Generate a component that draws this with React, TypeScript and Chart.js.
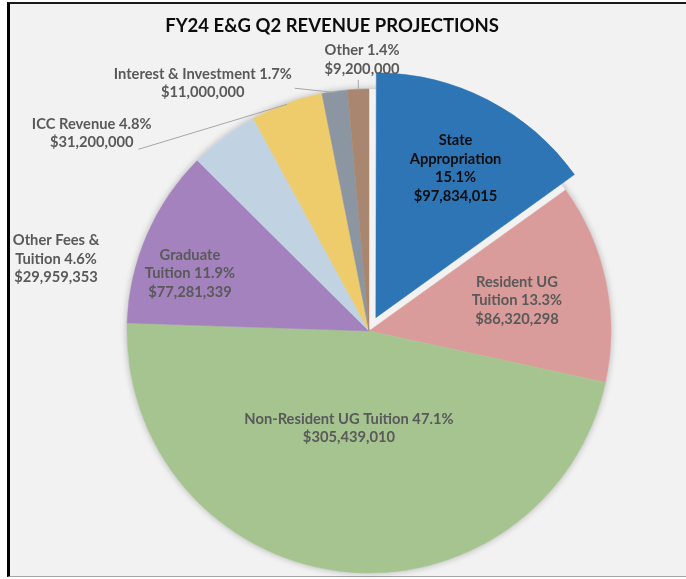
import React, { useEffect, useRef } from 'react';
import { Chart, registerables } from 'chart.js';

Chart.register(...registerables);

// ---------- data ----------
const chartTitle = 'FY24 E&G Q2 REVENUE PROJECTIONS';
const categories = [
  'State\nAppropriation',
  'Resident UG\nTuition',
  'Non-Resident UG Tuition',
  'Graduate\nTuition',
  'Other Fees &\nTuition',
  'ICC Revenue',
  'Interest & Investment',
  'Other',
];
const amounts = [97834015, 86320298, 305439010, 77281339, 29959353, 31200000, 11000000, 9200000];
const percentSeparator = ['\n', ' ', ' ', ' ', ' ', ' ', ' ', ' '];

// ---------- styles / layout ----------
const sliceColors = ['#2E75B6', '#DA9C9B', '#A5C490', '#A382BD', '#C1D3E3', '#EECB6B', '#8C96A3', '#A9866F'];
const sliceOffsets = [60, 0, 0, 0, 0, 0, 0, 0];
const labelColors = ['#0D0D0D', '#595959', '#595959', '#595959', '#595959', '#595959', '#595959', '#595959'];
// label placement: angle shift from slice middle (degrees) and distance in outer radii
const labelAngleShift = [0.9, 0.1, 4.6, -5.6, -40.2, -34.6, -25.7, 1.1];
const labelRadius = [0.7, 0.624, 0.41, 0.777, 1.327, 1.408, 1.233, 1.122];
const leaderMode = ['', '', '', '', '', 'bottomRight', 'right', 'bottom'];

const FONT = 'Lato, "Open Sans", sans-serif';
const LABEL_SIZE = 14.7;
const LINE_H = 18.5;

const total = amounts.reduce((a, b) => a + b, 0);
const labelTexts = amounts.map((v, i) => {
  const pct = ((v / total) * 100).toFixed(1) + '%';
  return categories[i] + percentSeparator[i] + pct + '\n$' + v.toLocaleString('en-US');
});

const deg = Math.PI / 180;

const labelPlugin = {
  id: 'sliceLabels',
  beforeDatasetsDraw(chart: any) {
    const meta = chart.getDatasetMeta(0);
    const a = meta.data[1];
    if (!a) return;
    const ctx = chart.ctx;
    ctx.save();
    ctx.shadowColor = 'rgba(0,0,0,0.28)';
    ctx.shadowBlur = 7;
    ctx.fillStyle = '#F2F2F2';
    ctx.beginPath();
    ctx.arc(a.x, a.y, a.outerRadius, 0, Math.PI * 2);
    ctx.fill();
    ctx.restore();
  },
  afterDatasetsDraw(chart: any) {
    const ctx = chart.ctx;
    const meta = chart.getDatasetMeta(0);
    meta.data.forEach((arc: any, i: number) => {
      const mid = (arc.startAngle + arc.endAngle) / 2;
      const off = (sliceOffsets[i] || 0) / 4;
      const cx0 = arc.x + Math.cos(mid) * off;
      const cy0 = arc.y + Math.sin(mid) * off;
      const ang = mid + labelAngleShift[i] * deg;
      const r = arc.outerRadius * labelRadius[i];
      const cx = cx0 + Math.cos(ang) * r;
      const cy = cy0 + Math.sin(ang) * r;
      const lines = labelTexts[i].split('\n');
      ctx.save();
      ctx.font = `bold ${LABEL_SIZE}px ${FONT}`;
      ctx.fillStyle = labelColors[i];
      ctx.textAlign = 'center';
      ctx.textBaseline = 'middle';
      const n = lines.length;
      const ys = lines.map((_, k) => cy + (k - (n - 1) / 2) * LINE_H);
      lines.forEach((t, k) => ctx.fillText(t, cx, ys[k]));
      const mode = leaderMode[i];
      if (mode) {
        const ex = cx0 + Math.cos(mid) * (arc.outerRadius - 1);
        const ey = cy0 + Math.sin(mid) * (arc.outerRadius - 1);
        let sx = ex, sy = ey;
        if (mode === 'bottomRight') {
          const w = ctx.measureText(lines[n - 1]).width;
          sx = cx + w / 2 + 5;
          sy = ys[n - 1] + 7;
        } else if (mode === 'right') {
          const w = Math.max(...lines.map((t) => ctx.measureText(t).width));
          sx = cx + w / 2 + 3;
          sy = cy + 5;
        } else if (mode === 'bottom') {
          sx = ex;
          sy = ys[n - 1] + 11;
        }
        ctx.strokeStyle = '#A6A6A6';
        ctx.lineWidth = 1;
        ctx.beginPath();
        ctx.moveTo(sx, sy);
        ctx.lineTo(ex, ey);
        ctx.stroke();
      }
      ctx.restore();
    });
  },
  afterDraw(chart: any) {
    const ctx = chart.ctx;
    ctx.save();
    ctx.font = `bold 18.5px ${FONT}`;
    ctx.fillStyle = '#0D0D0D';
    ctx.textAlign = 'center';
    ctx.textBaseline = 'middle';
    ctx.fillText(chartTitle, 332, 26);
    ctx.restore();
  },
};

export default function App() {
  const ref = useRef<HTMLCanvasElement>(null);
  useEffect(() => {
    if (!ref.current) return;
    const chart = new Chart(ref.current, {
      type: 'pie',
      data: {
        labels: categories.map((c) => c.replace('\n', ' ')),
        datasets: [
          {
            data: amounts,
            backgroundColor: sliceColors,
            borderColor: sliceColors,
            borderWidth: 0.5,
            offset: sliceOffsets,
            hoverOffset: 0,
          } as any,
        ],
      },
      options: {
        responsive: false,
        maintainAspectRatio: false,
        devicePixelRatio: 1,
        animation: false,
        radius: 242,
        layout: { padding: { top: 83, bottom: 0, left: 52, right: 0 } },
        plugins: {
          legend: { display: false },
          tooltip: { enabled: false },
          title: { display: false },
        },
        events: [],
      } as any,
      plugins: [labelPlugin],
    });
    return () => chart.destroy();
  }, []);
  return (
    <div style={{ position: 'absolute', left: 0, top: 0, width: 686, height: 579, background: '#FFFFFF', overflow: 'hidden' }}>
      <div
        style={{
          position: 'absolute',
          left: 7,
          top: 2,
          width: 679,
          height: 575,
          boxSizing: 'border-box',
          background: '#F2F2F2',
          borderLeft: '3px solid #000000',
          borderTop: '2px solid #1A1A1A',
          borderBottom: '1px solid #A6A6A6',
        }}
      />
      <canvas ref={ref} width={686} height={579} style={{ position: 'absolute', left: 0, top: 0, width: 686, height: 579 }} />
    </div>
  );
}
